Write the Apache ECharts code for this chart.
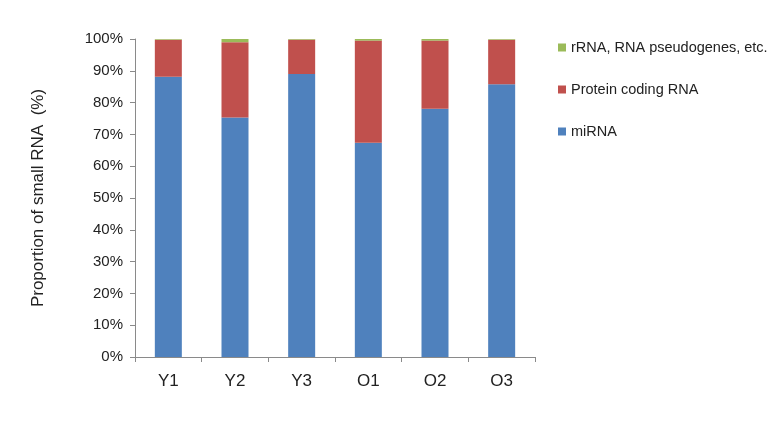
<!DOCTYPE html>
<html><head><meta charset="utf-8">
<script src="https://cdn.jsdelivr.net/npm/echarts@6/dist/echarts.min.js"></script>
<style>html,body{margin:0;padding:0;background:#fff}#c{width:777px;height:422px}</style>
</head><body><div id="c"></div>
<script>
var categories = ['Y1','Y2','Y3','O1','O2','O3'];
var miRNA = [88.1, 75.3, 89.0, 67.4, 78.1, 85.8];
var proteinCoding = [11.7, 23.7, 10.8, 32.1, 21.4, 14.0];
var otherRNA = [0.2, 1.0, 0.2, 0.5, 0.5, 0.2];
var yTicks = [0,10,20,30,40,50,60,70,80,90,100];
var names = ['miRNA','Protein coding RNA','rRNA, RNA pseudogenes, etc.'];
var colors = ['#4F81BD','#C0504D','#9BBB59'];

var chart = echarts.init(document.getElementById('c'));
var font = 'Liberation Sans, Arial, sans-serif';
function mk(name, data, color){
  return {name:name, type:'bar', stack:'a', data:data, barWidth:27,
    itemStyle:{color:color}, emphasis:{disabled:true}};
}
chart.setOption({
  animation:false,
  textStyle:{fontFamily:font},
  grid:{left:135, right:242, top:39, bottom:65},
  legend:{orient:'vertical', left:553, top:35, itemWidth:8, itemHeight:8, itemGap:27,
    data:[names[2],names[1],names[0]],
    textStyle:{fontSize:14.5, color:'#222', fontFamily:font},
    icon:'rect'},
  xAxis:{type:'category', data:categories,
    axisLine:{lineStyle:{color:'#8a8a8a'}},
    axisTick:{show:true, inside:false, length:5, lineStyle:{color:'#8a8a8a'}},
    axisLabel:{fontSize:17, color:'#222', margin:16, fontFamily:font}},
  yAxis:{type:'value', min:0, max:100, interval:10,
    name:'Proportion of small RNA  (%)', nameLocation:'middle', nameGap:88,
    nameTextStyle:{fontSize:17, color:'#222', fontFamily:font},
    axisLine:{show:true, lineStyle:{color:'#8a8a8a'}},
    axisTick:{show:true, length:5, lineStyle:{color:'#8a8a8a'}},
    splitLine:{show:false},
    axisLabel:{fontSize:15, color:'#222', margin:12, fontFamily:font,
      formatter:function(v){return yTicks.indexOf(v)>=0 ? v+'%' : '';}}},
  series:[mk(names[0], miRNA, colors[0]), mk(names[1], proteinCoding, colors[1]), mk(names[2], otherRNA, colors[2])]
});
</script></body></html>
